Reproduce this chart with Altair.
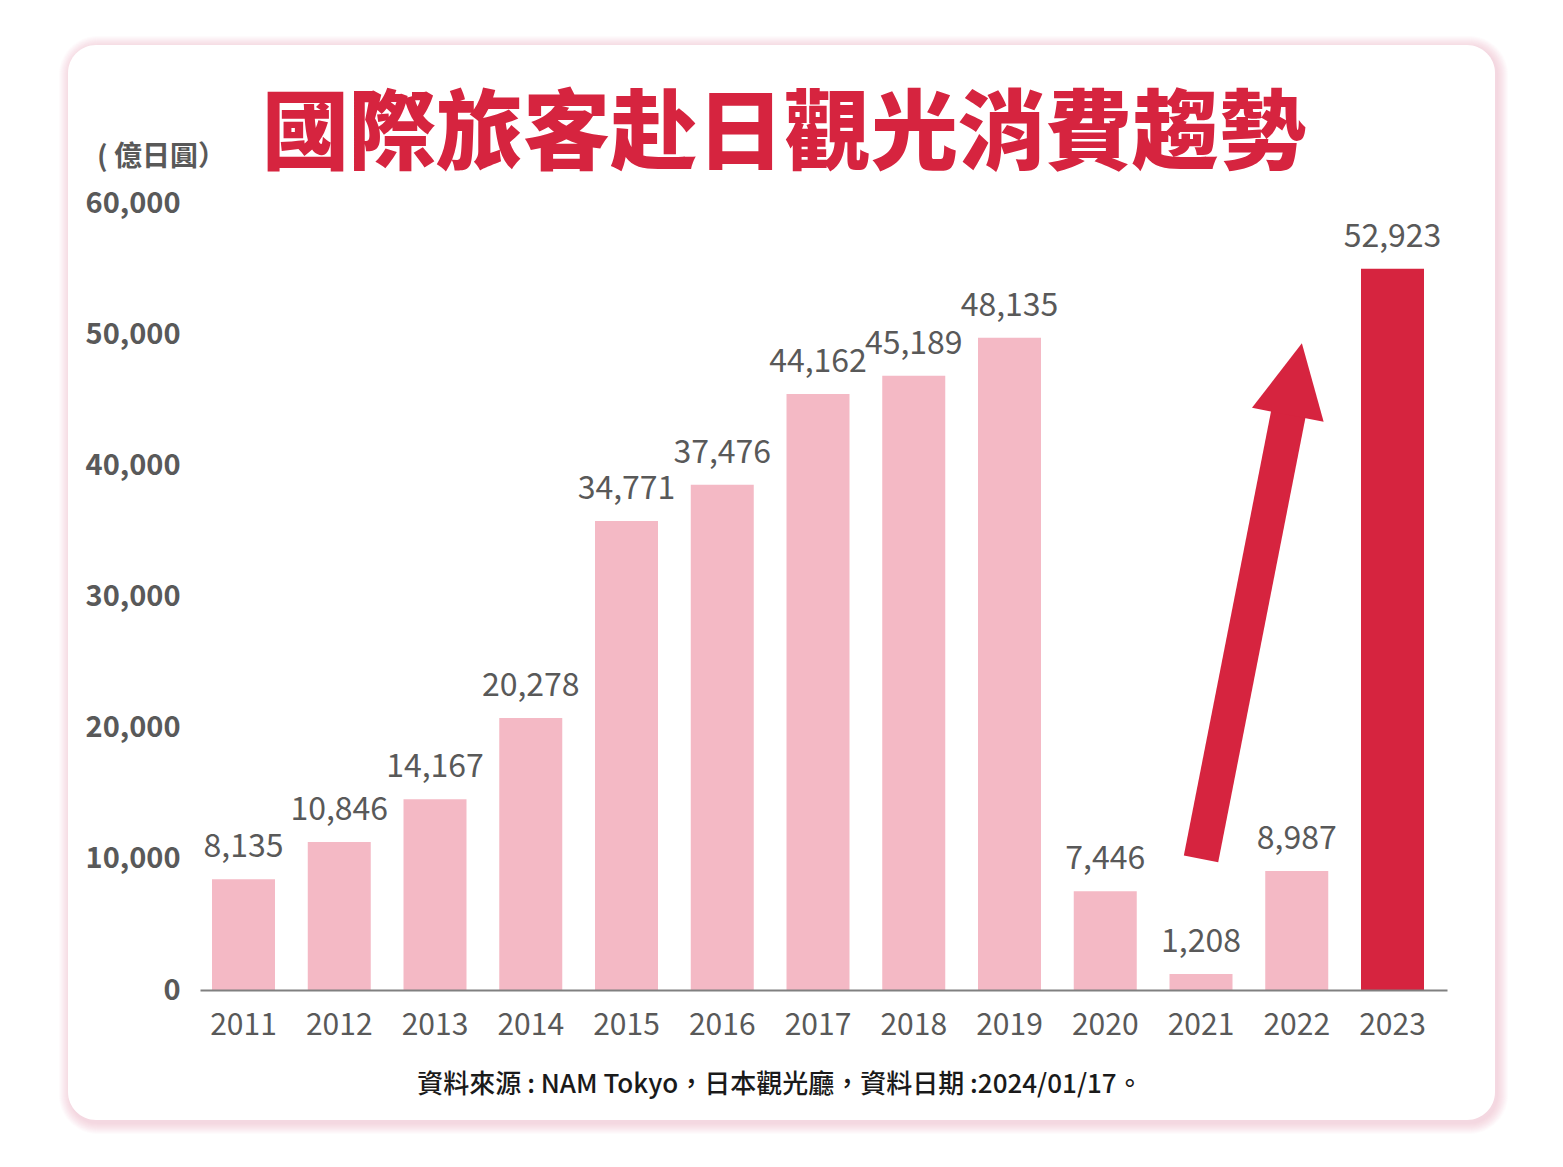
import altair as alt
import pandas as pd

# ---- data ----
years = ["2011", "2012", "2013", "2014", "2015", "2016", "2017",
         "2018", "2019", "2020", "2021", "2022", "2023"]
# bar heights as drawn in the picture (億日圓)
bar_heights = [8440, 11280, 14540, 20740, 35760, 38520, 45440,
               46830, 49730, 7530, 1220, 9070, 54990]
# value labels printed above the bars
bar_labels = [8135, 10846, 14167, 20278, 34771, 37476, 44162,
              45189, 48135, 7446, 1208, 8987, 52923]
highlight = ["base"] * 12 + ["now"]

y_ticks = [0, 10000, 20000, 30000, 40000, 50000, 60000]

# annotation arrow (tail -> head), in year / value units
arrow_tail_year, arrow_tail_val = [2021.0], [10000]
arrow_neck_year, arrow_neck_val = [2021.92], [44210]
arrow_head_year, arrow_head_val = [2021.98], [46580]

title_text = "國際旅客赴日觀光消費趨勢"
unit_text = "( 億日圓）"
source_text = "資料來源 : NAM Tokyo，日本觀光廳，資料日期 :2024/01/17。"

PINK = "#F4B9C5"
RED = "#D6243F"
GREY = "#595959"
FONT = "Noto Sans CJK TC"

W, H = 1247, 787

df = pd.DataFrame({"year": years, "height": bar_heights,
                   "label": bar_labels, "hl": highlight})

band = alt.Scale(type="band", paddingInner=0.342, paddingOuter=0.1828, align=0.343)
yscale = alt.Scale(domain=[0, 60000], nice=False, zero=True)
qx = alt.Scale(domain=[2010.5457, 2023.569], nice=False, zero=False)

one = alt.Data(values=[{"k": 1}])

layers = []
# card glow
for k in range(1, 12):
    layers.append(
        alt.Chart(one).mark_rect(cornerRadius=28 + k, fill="#F2A3B3", opacity=0.045)
        .encode(x=alt.value(-132 - k + 2), x2=alt.value(1295 + k + 2),
                y=alt.value(-158 - k + 2), y2=alt.value(917 + k + 3))
    )
# card
layers.append(
    alt.Chart(one).mark_rect(cornerRadius=28, fill="white")
    .encode(x=alt.value(-132), x2=alt.value(1295), y=alt.value(-158), y2=alt.value(917))
)

bars = alt.Chart(df).mark_bar(size=63).encode(
    x=alt.X("year:N", scale=band, sort=years,
            axis=alt.Axis(title=None, labelAngle=0, labelFontSize=30, labelFont=FONT,
                          labelColor=GREY, labelPadding=20, ticks=False, zindex=2,
                          domainColor="#808080", domainWidth=2, grid=False)),
    y=alt.Y("height:Q", scale=yscale,
            axis=alt.Axis(title=None, values=y_ticks, format=",d", labelFontSize=29,
                          labelFont=FONT, labelFontWeight="bold", labelColor=GREY, zindex=2,
                          labelPadding=20, domain=False, ticks=False, grid=False)),
    color=alt.Color("hl:N", scale=alt.Scale(domain=["base", "now"], range=[PINK, RED]),
                    legend=None),
)
labels = alt.Chart(df).mark_text(fontSize=32, font=FONT, color=GREY,
                                 baseline="alphabetic", dy=-22).encode(
    x=alt.X("year:N", scale=band, sort=years, axis=None),
    y=alt.Y("height:Q", scale=yscale, axis=None),
    text=alt.Text("label:Q", format=",d"),
)

arrow_df = pd.DataFrame({"x": arrow_tail_year, "y": arrow_tail_val,
                         "x2": arrow_neck_year, "y2": arrow_neck_val})
shaft = alt.Chart(arrow_df).mark_rule(color=RED, strokeWidth=35, strokeCap="butt").encode(
    x=alt.X("x:Q", scale=qx, axis=None), y=alt.Y("y:Q", scale=yscale, axis=None),
    x2="x2:Q", y2="y2:Q",
)
head_df = pd.DataFrame({"x": arrow_head_year, "y": arrow_head_val})
head = alt.Chart(head_df).mark_point(shape="M0,-1L1,1L-1,1Z", size=5329, angle=11.1,
                                     filled=True, fill=RED, opacity=1, strokeWidth=0).encode(
    x=alt.X("x:Q", scale=qx, axis=None), y=alt.Y("y:Q", scale=yscale, axis=None),
)

title = alt.Chart(one).mark_text(text=title_text, font=FONT, fontSize=87, fontWeight=900,
                                 color=RED, align="center", baseline="middle").encode(
    x=alt.value(584), y=alt.value(-66))
unit = alt.Chart(one).mark_text(text=unit_text, font=FONT, fontSize=28, fontWeight="bold",
                                color=GREY, align="left", baseline="middle").encode(
    x=alt.value(-103), y=alt.value(-45))
source = alt.Chart(one).mark_text(text=source_text, font=FONT, fontSize=26, fontWeight=500,
                                  color="#1a1a1a", align="center", baseline="middle").encode(
    x=alt.value(580), y=alt.value(882))

chart = alt.layer(*layers, bars, labels, shaft, head, title, unit, source).resolve_scale(
    x="independent", y="independent"
).properties(
    width=W, height=H,
    autosize=alt.AutoSizeParams(type="none"),
    padding={"left": 192, "top": 195, "right": 100, "bottom": 160},
    background="white",
).configure_view(stroke=None)

chart.save("out.html", embed_options={"renderer": "svg", "actions": False})
